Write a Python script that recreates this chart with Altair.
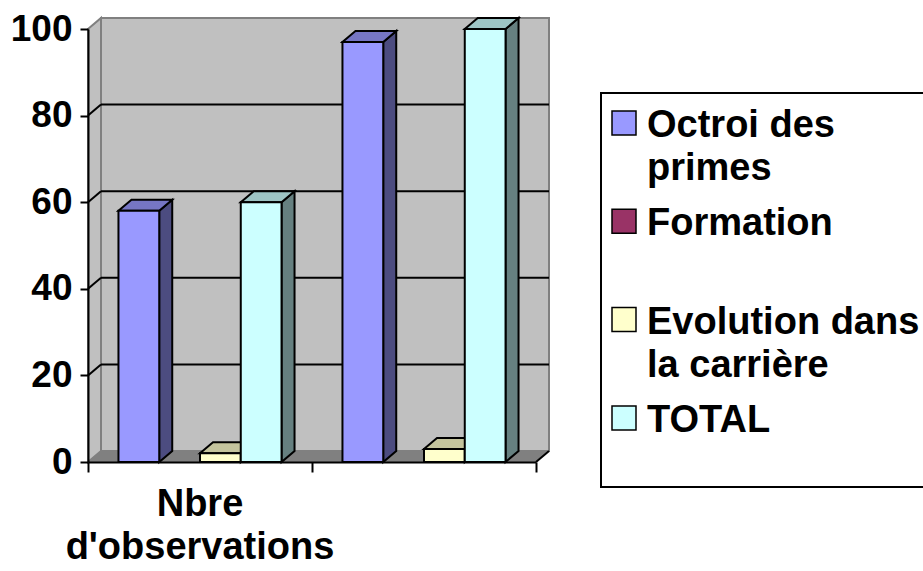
import textwrap

import altair as alt
import pandas as pd

# ---- data -------------------------------------------------------------
categories = ["Nbre d'observations", ""]
series = ["Octroi des primes", "Formation", "Evolution dans la carrière", "TOTAL"]
octroi_des_primes = [58, 97]
formation = [0, 0]
evolution_carriere = [2, 3]
total = [60, 100]
values_by_series = [octroi_des_primes, formation, evolution_carriere, total]
y_ticks = [0, 20, 40, 60, 80, 100]

# ---- styling ----------------------------------------------------------
front_colors = ["#9999FF", "#993366", "#FFFFCC", "#CCFFFF"]
WALL = "#C0C0C0"
FLOOR = "#808080"
EDGE = "#808080"
FONT = "Liberation Sans"
FS = 38

W, H = 448, 433                    # plot area
PAD_L, PAD_T = 88, 29
Y_MAX = 100
N_GROUPS = len(categories)
DEPTH_PX_X, DEPTH_PX_Y = 13, 11    # oblique depth of the 3-D box
dx = DEPTH_PX_X * N_GROUPS / W
dy = DEPTH_PX_Y * Y_MAX / H
GAP = 0.136                        # empty space on each side of a cluster
BW = (1 - 2 * GAP) / len(series)   # bar width in category units


def shade(hex_color, f):
    rgb = [int(hex_color[k:k + 2], 16) for k in (1, 3, 5)]
    return "#" + "".join(f"{round(c * f):02X}" for c in rgb)


xs = alt.Scale(domain=[0, N_GROUPS], nice=False, zero=False)
ys = alt.Scale(domain=[0, Y_MAX], nice=False, zero=False)

y_axis = alt.Axis(values=y_ticks, title=None, grid=False, domainColor="black",
                  domainWidth=2, tickColor="black", tickWidth=2, tickSize=8,
                  labelFont=FONT, labelFontSize=37, labelFontWeight="bold",
                  labelColor="black", labelPadding=8, labelFlush=False,
                  labelOverlap=False, zindex=2)
x_axis = alt.Axis(values=list(range(N_GROUPS + 1)), labels=False, title=None,
                  grid=False, domainColor="black", domainWidth=2,
                  tickColor="black", tickWidth=2, tickSize=10, zindex=2)


def X(field="x", **kw):
    return alt.X(f"{field}:Q", scale=xs, axis=x_axis, title=None, **kw)


def Y(field="y", **kw):
    return alt.Y(f"{field}:Q", scale=ys, axis=y_axis, title=None, **kw)


# ---- bar faces ----------------------------------------------------------
front_rows, side_rows, top_rows = [], [], []
for g in range(N_GROUPS):
    for i, (vals, col) in enumerate(zip(values_by_series, front_colors)):
        v = vals[g]
        if v <= 0:
            continue
        x0 = g + GAP + i * BW
        x1 = x0 + BW
        bid = f"{g}-{i}"
        front_rows.append(dict(x=x0, x2=x1, y=v, y2=0, col=col, id=bid))
        sc, tc = shade(col, 0.5), shade(col, 0.77)
        side_rows += [dict(x=x1, y=v, y2=0, col=sc, id=bid),
                      dict(x=x1 + dx, y=v + dy, y2=dy, col=sc, id=bid)]
        top_rows += [dict(y=v, x=x0, x2=x1, col=tc, id=bid),
                     dict(y=v + dy, x=x0 + dx, x2=x1 + dx, col=tc, id=bid)]

front_df = pd.DataFrame(front_rows)
side_df = pd.DataFrame(side_rows)
top_df = pd.DataFrame(top_rows)

# ---- walls, floor, gridlines -------------------------------------------
back_df = pd.DataFrame([dict(x=dx, x2=N_GROUPS + dx, y=dy, y2=Y_MAX + dy)])
sidewall_df = pd.DataFrame([dict(x=0, y=Y_MAX, y2=0, id="w"),
                            dict(x=dx, y=Y_MAX + dy, y2=dy, id="w")])
floor_df = pd.DataFrame([dict(y=0, x=0, x2=N_GROUPS, id="f"),
                         dict(y=dy, x=dx, x2=N_GROUPS + dx, id="f")])
grid_rows = []
for t in y_ticks[1:-1]:
    grid_rows.append(dict(x=dx, x2=N_GROUPS + dx, y=t + dy, y2=t + dy))
    grid_rows.append(dict(x=0, x2=dx, y=t, y2=t + dy))
grid_rows.append(dict(x=N_GROUPS, x2=N_GROUPS + dx, y=0, y2=dy))
grid_df = pd.DataFrame(grid_rows)

back = alt.Chart(back_df).mark_rect(fill=WALL, stroke=EDGE, strokeWidth=2).encode(
    x=X(), x2="x2", y=Y(), y2="y2")

sidewall = alt.Chart(sidewall_df).mark_area(fill=WALL, stroke=EDGE, strokeWidth=2).encode(
    x=X(), y=Y(stack=None), y2="y2", detail="id:N")

floor = alt.Chart(floor_df).mark_area(orient="horizontal", fill=FLOOR).encode(
    y=Y(), x=X(stack=None), x2="x2", detail="id:N")

grid = alt.Chart(grid_df).mark_rule(color="black", strokeWidth=2).encode(
    x=X(), x2="x2", y=Y(), y2="y2")

bar_side = alt.Chart(side_df).mark_area(stroke="black", strokeWidth=2).encode(
    x=X(), y=Y(stack=None), y2="y2",
    detail="id:N", fill=alt.Fill("col:N", scale=None))

bar_top = alt.Chart(top_df).mark_area(orient="horizontal", stroke="black", strokeWidth=2).encode(
    y=Y(), x=X(stack=None), x2="x2",
    detail="id:N", fill=alt.Fill("col:N", scale=None))

bar_front = alt.Chart(front_df).mark_rect(stroke="black", strokeWidth=2).encode(
    x=X(), x2="x2", y=Y(), y2="y2",
    fill=alt.Fill("col:N", scale=None))

# ---- category label under the first cluster ----------------------------
cat_df = pd.DataFrame([dict(x=g + 0.5, label="\n".join(textwrap.wrap(c, 14)))
                       for g, c in enumerate(categories) if c])
cat_text = alt.Chart(cat_df).mark_text(
    font=FONT, fontSize=FS, fontWeight="bold", color="black",
    align="center", baseline="alphabetic", lineBreak="\n", lineHeight=43
).encode(x=X(), y=alt.value(487), text="label:N")

# ---- legend -------------------------------------------------------------
LEG_X0, LEG_X1, LEG_Y0, LEG_Y1 = 513, 850, 64, 458
LEG_SQ_X, LEG_TXT_X = 536, 559
LEG_BASE0, LEG_STEP = 108, 98.3

one = pd.DataFrame([{"k": 0}])
legend_layers = [
    alt.Chart(one).mark_rect(fill="white", stroke="black", strokeWidth=2).encode(
        x=alt.value(LEG_X0), x2=alt.value(LEG_X1),
        y=alt.value(LEG_Y0), y2=alt.value(LEG_Y1))
]
for i, (name, col) in enumerate(zip(series, front_colors)):
    base = LEG_BASE0 + i * LEG_STEP
    legend_layers.append(
        alt.Chart(one).mark_square(size=576, fill=col, stroke="black",
                                   strokeWidth=1.5, opacity=1).encode(
            x=alt.value(LEG_SQ_X), y=alt.value(base - 14)))
    legend_layers.append(
        alt.Chart(pd.DataFrame([{"label": "\n".join(textwrap.wrap(name, 14))}]))
        .mark_text(font=FONT, fontSize=FS, fontWeight="bold", color="black",
                   align="left", baseline="alphabetic", lineBreak="\n",
                   lineHeight=43)
        .encode(x=alt.value(LEG_TXT_X), y=alt.value(base), text="label:N"))

chart = alt.layer(
    back, sidewall, floor, grid, bar_side, bar_top, bar_front, cat_text,
    *legend_layers
).properties(
    width=W, height=H,
    autosize=alt.AutoSizeParams(type="none"),
    padding={"left": PAD_L, "top": PAD_T,
             "right": 923 - PAD_L - W, "bottom": 571 - PAD_T - H},
    background="white",
).configure_view(strokeWidth=0)

chart.save("out.html", embed_options={"renderer": "svg", "actions": False})
